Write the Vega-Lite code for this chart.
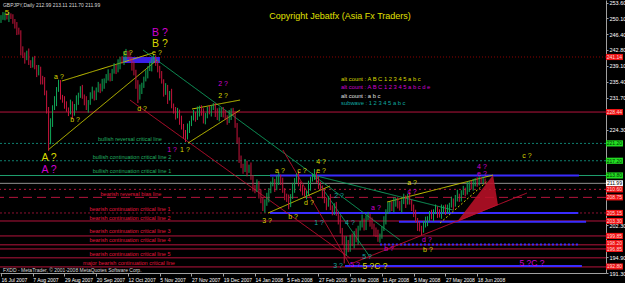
{
"$schema":"https://vega.github.io/schema/vega-lite/v6.json",
"width":606,"height":273,
"autosize":{"type":"none"},
"padding":{"left":0,"top":0,"right":19,"bottom":10},
"background":"#000000",
"config":{"view":{"stroke":null,"fill":"#000000"},"font":"Liberation Sans"},
"resolve":{"scale":{"color":"independent","strokeDash":"independent"},"axis":{"x":"independent","y":"independent"}},
"datasets":{
"bars":[
{"i":0,"o":249.8,"h":250.8,"l":249.0,"c":250.2},{"i":1,"o":250.2,"h":251.5,"l":249.7,"c":250.6},{"i":2,"o":250.6,"h":251.4,"l":249.6,"c":250.9},{"i":3,"o":250.9,"h":251.3,"l":249.8,"c":250.4},{"i":4,"o":250.4,"h":251.5,"l":249.2,"c":250.8},{"i":5,"o":250.8,"h":251.2,"l":249.9,"c":250.3},{"i":6,"o":250.3,"h":251.0,"l":248.8,"c":249.5},{"i":7,"o":249.5,"h":249.9,"l":247.7,"c":248.6},{"i":8,"o":248.6,"h":249.2,"l":246.2,"c":247.0},{"i":9,"o":247.0,"h":247.9,"l":246.3,"c":246.8},
{"i":10,"o":246.8,"h":247.3,"l":241.5,"c":242.5},{"i":11,"o":242.5,"h":243.6,"l":240.9,"c":241.5},{"i":12,"o":241.5,"h":242.2,"l":239.6,"c":240.8},{"i":13,"o":240.8,"h":242.6,"l":240.4,"c":241.8},{"i":14,"o":241.8,"h":243.1,"l":239.3,"c":240.0},{"i":15,"o":240.0,"h":240.4,"l":238.6,"c":239.5},{"i":16,"o":239.5,"h":241.1,"l":238.7,"c":240.5},{"i":17,"o":240.5,"h":241.4,"l":238.3,"c":238.8},{"i":18,"o":238.8,"h":239.3,"l":236.5,"c":237.5},{"i":19,"o":237.5,"h":239.3,"l":236.9,"c":238.2},
{"i":20,"o":238.2,"h":238.9,"l":234.8,"c":236.0},{"i":21,"o":236.0,"h":236.8,"l":234.8,"c":235.2},{"i":22,"o":235.2,"h":236.5,"l":232.3,"c":233.0},{"i":23,"o":233.0,"h":233.4,"l":228.1,"c":229.0},{"i":24,"o":229.0,"h":229.6,"l":219.5,"c":222.5},{"i":25,"o":222.5,"h":227.0,"l":221.0,"c":226.0},{"i":26,"o":226.0,"h":230.0,"l":225.0,"c":229.5},{"i":27,"o":229.5,"h":232.1,"l":228.9,"c":231.0},{"i":28,"o":231.0,"h":234.2,"l":229.8,"c":233.5},{"i":29,"o":233.5,"h":235.9,"l":233.1,"c":234.5},
{"i":30,"o":234.5,"h":235.8,"l":231.3,"c":232.0},{"i":31,"o":232.0,"h":232.4,"l":230.6,"c":231.5},{"i":32,"o":231.5,"h":232.1,"l":229.2,"c":230.0},{"i":33,"o":230.0,"h":230.9,"l":228.5,"c":229.0},{"i":34,"o":229.0,"h":229.5,"l":227.5,"c":228.5},{"i":35,"o":228.5,"h":231.3,"l":227.9,"c":230.2},{"i":36,"o":230.2,"h":230.9,"l":226.8,"c":228.0},{"i":37,"o":228.0,"h":230.3,"l":227.6,"c":229.5},{"i":38,"o":229.5,"h":232.3,"l":228.8,"c":231.0},{"i":39,"o":231.0,"h":232.9,"l":230.1,"c":232.5},
{"i":40,"o":232.5,"h":234.4,"l":231.7,"c":233.8},{"i":41,"o":233.8,"h":234.7,"l":231.5,"c":232.0},{"i":42,"o":232.0,"h":232.5,"l":230.0,"c":231.0},{"i":43,"o":231.0,"h":232.1,"l":228.9,"c":229.5},{"i":44,"o":229.5,"h":231.2,"l":228.3,"c":230.5},{"i":45,"o":230.5,"h":233.0,"l":230.1,"c":232.2},{"i":46,"o":232.2,"h":234.3,"l":231.5,"c":233.0},{"i":47,"o":233.0,"h":233.4,"l":231.1,"c":232.0},{"i":48,"o":232.0,"h":234.1,"l":231.2,"c":233.5},{"i":49,"o":233.5,"h":235.4,"l":233.0,"c":234.5},
{"i":50,"o":234.5,"h":235.0,"l":232.8,"c":233.8},{"i":51,"o":233.8,"h":236.1,"l":233.2,"c":235.0},{"i":52,"o":235.0,"h":236.2,"l":233.8,"c":235.5},{"i":53,"o":235.5,"h":237.2,"l":235.1,"c":236.4},{"i":54,"o":236.4,"h":238.3,"l":235.7,"c":237.0},{"i":55,"o":237.0,"h":237.4,"l":235.5,"c":236.4},{"i":56,"o":236.4,"h":238.4,"l":235.6,"c":237.8},{"i":57,"o":237.8,"h":239.7,"l":237.3,"c":238.8},{"i":58,"o":238.8,"h":239.3,"l":237.2,"c":238.2},{"i":59,"o":238.2,"h":240.6,"l":237.6,"c":239.5},
{"i":60,"o":239.5,"h":241.2,"l":238.3,"c":240.5},{"i":61,"o":240.5,"h":241.3,"l":239.6,"c":240.0},{"i":62,"o":240.0,"h":242.5,"l":239.3,"c":241.2},{"i":63,"o":241.2,"h":243.0,"l":240.3,"c":242.0},{"i":64,"o":242.0,"h":242.6,"l":240.7,"c":241.5},{"i":65,"o":241.5,"h":242.4,"l":240.1,"c":240.6},{"i":66,"o":240.6,"h":241.1,"l":238.0,"c":239.0},{"i":67,"o":239.0,"h":240.1,"l":236.9,"c":237.5},{"i":68,"o":237.5,"h":238.2,"l":233.8,"c":235.0},{"i":69,"o":235.0,"h":235.8,"l":230.5,"c":232.0},
{"i":70,"o":232.0,"h":234.8,"l":231.3,"c":233.5},{"i":71,"o":233.5,"h":235.2,"l":232.6,"c":234.8},{"i":72,"o":234.8,"h":236.6,"l":234.0,"c":236.0},{"i":73,"o":236.0,"h":238.1,"l":235.5,"c":237.2},{"i":74,"o":237.2,"h":239.0,"l":236.2,"c":238.5},{"i":75,"o":238.5,"h":240.1,"l":237.9,"c":239.0},{"i":76,"o":239.0,"h":240.9,"l":237.8,"c":240.2},{"i":77,"o":240.2,"h":241.8,"l":239.8,"c":240.8},{"i":78,"o":240.8,"h":241.5,"l":239.1,"c":239.8},{"i":79,"o":239.8,"h":240.2,"l":237.6,"c":238.5},
{"i":80,"o":238.5,"h":239.1,"l":236.2,"c":237.0},{"i":81,"o":237.0,"h":237.9,"l":235.0,"c":235.5},{"i":82,"o":235.5,"h":236.0,"l":232.0,"c":233.0},{"i":83,"o":233.0,"h":235.1,"l":232.4,"c":234.0},{"i":84,"o":234.0,"h":234.7,"l":230.3,"c":231.5},{"i":85,"o":231.5,"h":233.3,"l":231.1,"c":232.5},{"i":86,"o":232.5,"h":233.8,"l":229.3,"c":230.0},{"i":87,"o":230.0,"h":230.4,"l":228.1,"c":229.0},{"i":88,"o":229.0,"h":229.6,"l":226.7,"c":227.5},{"i":89,"o":227.5,"h":229.4,"l":227.0,"c":228.5},
{"i":90,"o":228.5,"h":229.0,"l":225.5,"c":226.5},{"i":91,"o":226.5,"h":227.6,"l":224.4,"c":225.0},{"i":92,"o":225.0,"h":225.7,"l":222.3,"c":223.5},{"i":93,"o":223.5,"h":224.3,"l":221.5,"c":222.8},{"i":94,"o":222.8,"h":225.8,"l":222.1,"c":224.5},{"i":95,"o":224.5,"h":226.4,"l":223.6,"c":226.0},{"i":96,"o":226.0,"h":227.6,"l":225.2,"c":227.0},{"i":97,"o":227.0,"h":228.9,"l":226.5,"c":228.0},{"i":98,"o":228.0,"h":228.5,"l":226.2,"c":227.2},{"i":99,"o":227.2,"h":229.7,"l":226.6,"c":228.6},
{"i":100,"o":228.6,"h":229.9,"l":227.4,"c":229.2},{"i":101,"o":229.2,"h":230.0,"l":227.6,"c":228.0},{"i":102,"o":228.0,"h":229.3,"l":225.8,"c":226.5},{"i":103,"o":226.5,"h":228.2,"l":225.6,"c":227.8},{"i":104,"o":227.8,"h":229.6,"l":227.0,"c":229.0},{"i":105,"o":229.0,"h":229.9,"l":227.9,"c":228.4},{"i":106,"o":228.4,"h":230.0,"l":227.4,"c":229.5},{"i":107,"o":229.5,"h":230.5,"l":228.9,"c":229.8},{"i":108,"o":229.8,"h":230.5,"l":227.3,"c":228.5},{"i":109,"o":228.5,"h":229.3,"l":226.6,"c":227.0},
{"i":110,"o":227.0,"h":229.5,"l":226.3,"c":228.2},{"i":111,"o":228.2,"h":229.4,"l":227.3,"c":229.0},{"i":112,"o":229.0,"h":229.6,"l":227.2,"c":228.0},{"i":113,"o":228.0,"h":228.9,"l":226.7,"c":227.2},{"i":114,"o":227.2,"h":227.7,"l":225.5,"c":226.5},{"i":115,"o":226.5,"h":228.9,"l":225.9,"c":227.8},{"i":116,"o":227.8,"h":229.3,"l":226.6,"c":228.6},{"i":117,"o":228.6,"h":229.4,"l":227.6,"c":228.0},{"i":118,"o":228.0,"h":228.6,"l":224.8,"c":225.5},{"i":119,"o":225.5,"h":225.9,"l":221.1,"c":222.0},
{"i":120,"o":222.0,"h":222.6,"l":216.7,"c":217.5},{"i":121,"o":217.5,"h":218.4,"l":215.5,"c":216.0},{"i":122,"o":216.0,"h":216.5,"l":214.2,"c":215.2},{"i":123,"o":215.2,"h":217.6,"l":214.6,"c":216.5},{"i":124,"o":216.5,"h":217.2,"l":213.6,"c":214.8},{"i":125,"o":214.8,"h":216.3,"l":214.4,"c":215.5},{"i":126,"o":215.5,"h":216.8,"l":212.8,"c":213.5},{"i":127,"o":213.5,"h":213.9,"l":210.1,"c":211.0},{"i":128,"o":211.0,"h":211.6,"l":209.7,"c":210.5},{"i":129,"o":210.5,"h":212.9,"l":210.0,"c":212.0},
{"i":130,"o":212.0,"h":212.5,"l":208.5,"c":209.5},{"i":131,"o":209.5,"h":210.6,"l":207.4,"c":208.0},{"i":132,"o":208.0,"h":208.7,"l":205.6,"c":206.8},{"i":133,"o":206.8,"h":208.3,"l":205.2,"c":207.5},{"i":134,"o":207.5,"h":209.8,"l":206.8,"c":208.5},{"i":135,"o":208.5,"h":210.9,"l":207.6,"c":210.5},{"i":136,"o":210.5,"h":212.4,"l":209.7,"c":211.8},{"i":137,"o":211.8,"h":213.4,"l":211.3,"c":212.5},{"i":138,"o":212.5,"h":213.0,"l":210.0,"c":211.0},{"i":139,"o":211.0,"h":213.9,"l":210.4,"c":212.8},
{"i":140,"o":212.8,"h":214.5,"l":211.6,"c":213.2},{"i":141,"o":213.2,"h":214.0,"l":211.6,"c":212.0},{"i":142,"o":212.0,"h":213.3,"l":209.8,"c":210.5},{"i":143,"o":210.5,"h":210.9,"l":208.1,"c":209.0},{"i":144,"o":209.0,"h":209.6,"l":207.7,"c":208.5},{"i":145,"o":208.5,"h":209.4,"l":206.0,"c":207.5},{"i":146,"o":207.5,"h":209.5,"l":206.5,"c":209.0},{"i":147,"o":209.0,"h":212.1,"l":208.4,"c":211.0},{"i":148,"o":211.0,"h":213.2,"l":209.8,"c":212.5},{"i":149,"o":212.5,"h":214.3,"l":212.1,"c":213.5},
{"i":150,"o":213.5,"h":214.8,"l":211.3,"c":212.0},{"i":151,"o":212.0,"h":212.4,"l":210.1,"c":211.0},{"i":152,"o":211.0,"h":211.6,"l":209.2,"c":210.0},{"i":153,"o":210.0,"h":210.9,"l":209.0,"c":209.5},{"i":154,"o":209.5,"h":210.3,"l":208.3,"c":209.8},{"i":155,"o":209.8,"h":212.6,"l":209.2,"c":211.5},{"i":156,"o":211.5,"h":213.5,"l":210.3,"c":212.8},{"i":157,"o":212.8,"h":214.3,"l":212.4,"c":213.5},{"i":158,"o":213.5,"h":215.3,"l":212.8,"c":214.2},{"i":159,"o":214.2,"h":214.6,"l":212.1,"c":213.0},
{"i":160,"o":213.0,"h":213.6,"l":210.7,"c":211.5},{"i":161,"o":211.5,"h":212.4,"l":210.5,"c":211.0},{"i":162,"o":211.0,"h":211.5,"l":208.5,"c":209.5},{"i":163,"o":209.5,"h":210.6,"l":207.4,"c":208.0},{"i":164,"o":208.0,"h":208.7,"l":205.8,"c":207.0},{"i":165,"o":207.0,"h":209.0,"l":206.6,"c":208.2},{"i":166,"o":208.2,"h":209.5,"l":205.8,"c":206.5},{"i":167,"o":206.5,"h":206.9,"l":204.6,"c":205.5},{"i":168,"o":205.5,"h":207.4,"l":204.7,"c":206.8},{"i":169,"o":206.8,"h":207.7,"l":204.5,"c":205.0},
{"i":170,"o":205.0,"h":205.5,"l":202.5,"c":203.5},{"i":171,"o":203.5,"h":204.6,"l":200.4,"c":201.0},{"i":172,"o":201.0,"h":201.7,"l":197.8,"c":199.0},{"i":173,"o":199.0,"h":199.8,"l":193.5,"c":196.0},{"i":174,"o":196.0,"h":199.8,"l":195.3,"c":198.5},{"i":175,"o":198.5,"h":198.9,"l":196.1,"c":197.0},{"i":176,"o":197.0,"h":200.1,"l":196.2,"c":199.5},{"i":177,"o":199.5,"h":200.4,"l":197.5,"c":198.0},{"i":178,"o":198.0,"h":201.0,"l":197.0,"c":200.5},{"i":179,"o":200.5,"h":201.6,"l":198.4,"c":199.0},
{"i":180,"o":199.0,"h":202.2,"l":197.8,"c":201.5},{"i":181,"o":201.5,"h":203.3,"l":201.1,"c":202.5},{"i":182,"o":202.5,"h":204.8,"l":201.8,"c":203.5},{"i":183,"o":203.5,"h":203.9,"l":201.1,"c":202.0},{"i":184,"o":202.0,"h":204.6,"l":201.2,"c":204.0},{"i":185,"o":204.0,"h":205.4,"l":203.5,"c":204.5},{"i":186,"o":204.5,"h":205.0,"l":202.0,"c":203.0},{"i":187,"o":203.0,"h":204.1,"l":201.4,"c":202.0},{"i":188,"o":202.0,"h":202.7,"l":199.8,"c":201.0},{"i":189,"o":201.0,"h":201.8,"l":199.6,"c":200.0},
{"i":190,"o":200.0,"h":201.3,"l":198.5,"c":199.2},{"i":191,"o":199.2,"h":200.4,"l":198.3,"c":200.0},{"i":192,"o":200.0,"h":202.1,"l":199.2,"c":201.5},{"i":193,"o":201.5,"h":204.4,"l":201.0,"c":203.5},{"i":194,"o":203.5,"h":206.0,"l":202.5,"c":205.5},{"i":195,"o":205.5,"h":207.6,"l":204.9,"c":206.5},{"i":196,"o":206.5,"h":207.7,"l":205.3,"c":207.0},{"i":197,"o":207.0,"h":207.8,"l":205.6,"c":206.0},{"i":198,"o":206.0,"h":208.8,"l":205.3,"c":207.5},{"i":199,"o":207.5,"h":208.6,"l":206.6,"c":208.2},
{"i":200,"o":208.2,"h":208.8,"l":206.2,"c":207.0},{"i":201,"o":207.0,"h":207.9,"l":205.7,"c":206.2},{"i":202,"o":206.2,"h":208.3,"l":205.2,"c":207.8},{"i":203,"o":207.8,"h":209.6,"l":207.2,"c":208.5},{"i":204,"o":208.5,"h":209.2,"l":206.3,"c":207.5},{"i":205,"o":207.5,"h":209.6,"l":207.1,"c":208.8},{"i":206,"o":208.8,"h":210.1,"l":207.1,"c":207.8},{"i":207,"o":207.8,"h":208.2,"l":205.6,"c":206.5},{"i":208,"o":206.5,"h":207.1,"l":204.2,"c":205.0},{"i":209,"o":205.0,"h":205.9,"l":203.0,"c":203.5},
{"i":210,"o":203.5,"h":204.0,"l":201.0,"c":202.0},{"i":211,"o":202.0,"h":203.1,"l":200.9,"c":201.5},{"i":212,"o":201.5,"h":202.2,"l":200.0,"c":201.0},{"i":213,"o":201.0,"h":203.3,"l":200.6,"c":202.5},{"i":214,"o":202.5,"h":204.3,"l":201.8,"c":203.0},{"i":215,"o":203.0,"h":204.4,"l":202.1,"c":204.0},{"i":216,"o":204.0,"h":205.6,"l":203.2,"c":205.0},{"i":217,"o":205.0,"h":205.9,"l":203.7,"c":204.2},{"i":218,"o":204.2,"h":206.0,"l":203.2,"c":205.5},{"i":219,"o":205.5,"h":207.1,"l":204.9,"c":206.0},
{"i":220,"o":206.0,"h":206.7,"l":204.0,"c":205.2},{"i":221,"o":205.2,"h":206.0,"l":204.1,"c":204.5},{"i":222,"o":204.5,"h":207.1,"l":203.8,"c":205.8},{"i":223,"o":205.8,"h":206.9,"l":204.9,"c":206.5},{"i":224,"o":206.5,"h":207.1,"l":204.7,"c":205.5},{"i":225,"o":205.5,"h":207.1,"l":205.0,"c":206.2},{"i":226,"o":206.2,"h":207.5,"l":205.2,"c":207.0},{"i":227,"o":207.0,"h":208.9,"l":206.4,"c":207.8},{"i":228,"o":207.8,"h":208.5,"l":205.8,"c":207.0},{"i":229,"o":207.0,"h":209.3,"l":206.6,"c":208.5},
{"i":230,"o":208.5,"h":210.5,"l":207.8,"c":209.2},{"i":231,"o":209.2,"h":209.6,"l":207.7,"c":208.6},{"i":232,"o":208.6,"h":210.4,"l":207.8,"c":209.8},{"i":233,"o":209.8,"h":211.4,"l":209.3,"c":210.5},{"i":234,"o":210.5,"h":211.0,"l":209.0,"c":210.0},{"i":235,"o":210.0,"h":212.3,"l":209.4,"c":211.2},{"i":236,"o":211.2,"h":212.5,"l":210.0,"c":211.8},{"i":237,"o":211.8,"h":212.6,"l":210.6,"c":211.0},{"i":238,"o":211.0,"h":213.0,"l":210.3,"c":212.2},{"i":239,"o":212.2,"h":213.2,"l":211.3,"c":212.8},
{"i":240,"o":212.8,"h":213.4,"l":211.2,"c":212.0},{"i":241,"o":212.0,"h":213.6,"l":211.5,"c":213.0},{"i":242,"o":213.0,"h":213.4,"l":212.0,"c":212.5},{"i":243,"o":212.5,"h":213.5,"l":211.9,"c":212.99},{"i":244,"o":212.99,"h":213.11,"l":211.70,"c":211.99}
],
"hl":[
{"p":241.14,"k":"res"},{"p":228.44,"k":"lvl"},{"p":221.2,"k":"bullrev"},{"p":217.2,"k":"bull2"},{"p":213.8,"k":"bull1"},{"p":211.99,"k":"cur"},{"p":210.6,"k":"bdot"},{"p":208.75,"k":"brev"},{"p":205.15,"k":"b1"},{"p":203.3,"k":"b"},{"p":199.85,"k":"b"},{"p":197.8,"k":"b"},{"p":196.85,"k":"b"},{"p":194.8,"k":"b"},{"p":192.7,"k":"b"}
],
"bl":[
{"i":135.6,"i2":291.3,"p":213.8,"k":"solid"},{"i":135.6,"i2":291.0,"p":205.15,"k":"solid"},{"i":200.6,"i2":294.9,"p":203.1,"k":"solid"},{"i":191.0,"i2":291.8,"p":197.9,"k":"dot"},{"i":173.4,"i2":292.8,"p":192.9,"k":"solid"}
],
"zone":[{"i":61.5,"i2":80.1,"p":241.14,"p2":239.75}],
"tri":[{"i":229.8,"p":203.06,"p2":203.06},{"i":248.0,"p":213.91,"p2":206.5},{"i":250.5,"p":206.98,"p2":206.98}],
"tl":[
{"g":"Y1","k":"yl","i":23.7,"p":219.67},{"g":"Y1","k":"yl","i":78.6,"p":240.44},
{"g":"Y2","k":"yl","i":30.7,"p":235.6},{"g":"Y2","k":"yl","i":76.6,"p":242.06},
{"g":"G1","k":"gr","i":71.6,"p":242.75},{"g":"G1","k":"gr","i":159.8,"p":213.21},
{"g":"G2","k":"gr","i":157.3,"p":213.9},{"g":"G2","k":"gr","i":201.1,"p":198.9},
{"g":"G3","k":"gr","i":157.3,"p":213.9},{"g":"G3","k":"gr","i":227.8,"p":205.83},
{"g":"G4","k":"gr","i":157.3,"p":213.9},{"g":"G4","k":"gr","i":186.0,"p":194.98},
{"g":"R1","k":"rd","i":65.0,"p":231.21},{"g":"R1","k":"rd","i":175.9,"p":194.75},
{"g":"R2","k":"rd","i":142.1,"p":219.67},{"g":"R2","k":"rd","i":175.9,"p":193.14},
{"g":"R3","k":"rd","i":177.4,"p":193.6},{"g":"R3","k":"rd","i":265.1,"p":209.75},
{"g":"Y3","k":"yl","i":134.6,"p":205.14},{"g":"Y3","k":"yl","i":165.8,"p":211.37},
{"g":"Y4","k":"yl","i":194.6,"p":207.67},{"g":"Y4","k":"yl","i":248.0,"p":213.9},
{"g":"Y5","k":"yd","i":221.3,"p":202.83},{"g":"Y5","k":"yd","i":245.0,"p":212.44},
{"g":"F1","k":"yl","i":94.3,"p":221.29},{"g":"F1","k":"yl","i":120.5,"p":228.91},
{"g":"F2","k":"yl","i":96.3,"p":229.14},{"g":"F2","k":"yl","i":120.5,"p":231.21}
],
"notes":[
{"r":"title","s":"alt1","i":170.9,"p":250.6,"t":"Copyright Jebatfx (Asia Fx Traders)"},
{"r":"hdr","s":"info","i":1.0,"p":253.1,"t":"GBPJPY,Daily  212.99 213.11 211.70 211.99"},
{"r":"hdr","s":"info","i":1.0,"p":191.95,"t":"FXDD - MetaTrader, © 2001-2008 MetaQuotes Software Corp."},
{"r":"five","s":"alt1","i":3.0,"p":251.3,"t":"5"},
{"r":"big","s":"alt2","i":80.1,"p":246.67,"t":"B ?"},
{"r":"big","s":"alt1","i":80.1,"p":244.14,"t":"B ?"},
{"r":"big","s":"alt1","i":24.2,"p":217.83,"t":"A ?"},
{"r":"big","s":"alt2","i":24.2,"p":215.06,"t":"A ?"},
{"r":"wave","s":"alt1","i":64.0,"p":242.06,"t":"c ?"},
{"r":"wave","s":"alt1","i":78.6,"p":242.06,"t":"e ?"},
{"r":"wave","s":"alt1","i":29.2,"p":236.52,"t":"a ?"},
{"r":"wave","s":"alt1","i":37.3,"p":226.6,"t":"b ?"},
{"r":"wave","s":"alt1","i":71.1,"p":229.14,"t":"d ?"},
{"r":"wave","s":"alt2","i":86.2,"p":219.67,"t":"1 ?"},
{"r":"wave","s":"alt1","i":92.7,"p":219.67,"t":"1 ?"},
{"r":"wave","s":"alt1","i":111.9,"p":232.14,"t":"2 ?"},
{"r":"wave","s":"alt2","i":111.9,"p":234.9,"t":"2 ?"},
{"r":"wave","s":"alt1","i":134.1,"p":203.29,"t":"3 ?"},
{"r":"wave","s":"alt1","i":140.6,"p":214.83,"t":"a ?"},
{"r":"wave","s":"alt1","i":147.2,"p":204.21,"t":"b ?"},
{"r":"wave","s":"alt1","i":151.7,"p":214.83,"t":"c ?"},
{"r":"wave","s":"alt1","i":155.2,"p":207.44,"t":"d ?"},
{"r":"wave","s":"alt1","i":161.3,"p":214.83,"t":"e ?"},
{"r":"wave","s":"alt1","i":161.3,"p":216.91,"t":"4 ?"},
{"r":"wave","s":"sub","i":160.3,"p":202.83,"t":"1 ?"},
{"r":"wave","s":"sub","i":170.4,"p":209.06,"t":"2 ?"},
{"r":"wave","s":"sub","i":175.9,"p":202.83,"t":"4 ?"},
{"r":"wave","s":"sub","i":184.5,"p":194.98,"t":"5 ?"},
{"r":"wave","s":"sub","i":169.9,"p":192.9,"t":"3 ?"},
{"r":"wave","s":"alt2","i":178.4,"p":193.14,"t":"5 ?"},
{"r":"wave2","s":"alt1","i":188.5,"p":192.9,"t":"5 ?C ?"},
{"r":"wave","s":"alt2","i":189.0,"p":206.29,"t":"a ?"},
{"r":"wave","s":"alt2","i":195.6,"p":196.83,"t":"b ?"},
{"r":"wave","s":"alt1","i":207.2,"p":212.06,"t":"a ?"},
{"r":"wave","s":"alt2","i":207.2,"p":209.98,"t":"c ?"},
{"r":"wave","s":"alt2","i":214.7,"p":198.9,"t":"d ?"},
{"r":"wave","s":"alt1","i":215.2,"p":196.6,"t":"b ?"},
{"r":"wave","s":"alt2","i":242.4,"p":215.75,"t":"4 ?"},
{"r":"wave","s":"alt2","i":242.4,"p":214.14,"t":"e ?"},
{"r":"wave","s":"alt1","i":265.1,"p":218.29,"t":"c ?"},
{"r":"wave2","s":"alt2","i":267.6,"p":193.6,"t":"5 ?C ?"},
{"r":"line","s":"bull","i":65.0,"p":222.21,"t":"bullish reversal critical line"},
{"r":"line","s":"bull","i":66.0,"p":218.06,"t":"bullish continuation critical line 2"},
{"r":"line","s":"bull","i":66.0,"p":214.83,"t":"bullish continuation critical line 1"},
{"r":"line","s":"bear","i":65.5,"p":209.52,"t":"bearish reversal bias line"},
{"r":"line","s":"bear","i":65.0,"p":206.06,"t":"bearish continuation critical line 1"},
{"r":"line","s":"bear","i":65.0,"p":203.98,"t":"bearish continuation critical line 2"},
{"r":"line","s":"bear","i":65.0,"p":200.98,"t":"bearish continuation critical line 3"},
{"r":"line","s":"bear","i":65.0,"p":198.9,"t":"bearish continuation critical line 4"},
{"r":"line","s":"bear","i":65.0,"p":195.67,"t":"bearish continuation critical line 5"},
{"r":"line","s":"bear","i":64.5,"p":193.6,"t":"major bearish continuation critical line"},
{"r":"legend","s":"alt1","i":171.4,"p":236.06,"t":"alt count : A B C 1 2 3 4 5 a b c"},
{"r":"legend","s":"alt2","i":171.4,"p":234.21,"t":"alt count : A B C 1 2 3 4 5 a b c d e"},
{"r":"legend","s":"alt3","i":171.4,"p":232.14,"t":"alt count : a b c"},
{"r":"legend","s":"sub","i":171.4,"p":230.52,"t":"subwave : 1 2 3 4 5 a b c"}
],
"tags":[
{"p":241.14,"t":"241.14","k":"bear"},{"p":228.44,"t":"228.44","k":"bear"},{"p":221.2,"t":"221.20","k":"bull"},{"p":217.2,"t":"217.20","k":"bull"},{"p":213.8,"t":"213.80","k":"bull"},{"p":211.99,"t":"211.99","k":"cur"},{"p":210.6,"t":"210.60","k":"bear"},{"p":208.75,"t":"208.75","k":"bear"},{"p":205.15,"t":"205.15","k":"bear"},{"p":203.3,"t":"203.30","k":"bear"},{"p":199.85,"t":"199.85","k":"bear"},{"p":198.2,"t":"198.20","k":"bear"},{"p":196.85,"t":"196.85","k":"bear"},{"p":192.8,"t":"192.80","k":"bear"}
]
},
"layer":[
{"data":{"name":"bars"},"mark":{"type":"rule","strokeWidth":1},
 "encoding":{"x":{"field":"i","type":"quantitative","scale":{"domain":[-0.5,304.94],"nice":false,"zero":false},
   "axis":{"orient":"bottom","title":null,"values":[0,16,32,48,64,80,96,112,128,144,160,176,192,208,224,240],
    "labelExpr":"['16 Jul 2007','7 Aug 2007','29 Aug 2007','20 Sep 2007','12 Oct 2007','5 Nov 2007','27 Nov 2007','19 Dec 2007','14 Jan 2008','5 Feb 2008','27 Feb 2008','20 Mar 2008','11 Apr 2008','5 May 2008','27 May 2008','18 Jun 2008'][round(datum.value/16)]",
    "labelAlign":"left","labelFontSize":5,"labelColor":"#ffffff","labelPadding":1,"tickSize":3,"tickColor":"#a0a0a0","domainColor":"#a0a0a0","grid":false,"labelFlush":false,"labelOverlap":false}},
  "y":{"field":"l","type":"quantitative","scale":{"domain":[191.3,254.29],"nice":false,"zero":false},
   "axis":{"orient":"right","title":null,"values":[253.6,250.1,246.4,242.8,239.1,235.4,231.7,224.3,202.3,194.9,191.3],"format":".2f",
    "labelFontSize":5.5,"labelColor":"#ffffff","labelPadding":1,"tickSize":2,"tickColor":"#a0a0a0","domainColor":"#a0a0a0","grid":false,"labelFlush":false,"labelOverlap":false}},
  "y2":{"field":"h"},
  "color":{"value":"#000000"},"opacity":{"value":0}}},
{"data":{"name":"hl"},"mark":{"type":"rule","strokeWidth":1},
 "encoding":{"y":{"field":"p","type":"quantitative","axis":null},
  "color":{"field":"k","type":"nominal","legend":null,"scale":{"domain":["res","lvl","bullrev","bull2","bull1","cur","bdot","brev","b1","b"],"range":["#8b0000","#b4143c","#0f7f6f","#0f7f6f","#1f9f6f","#909090","#b4143c","#b4143c","#8b1030","#b4143c"]}},
  "strokeDash":{"field":"k","type":"nominal","legend":null,"scale":{"domain":["res","lvl","bullrev","bull2","bull1","cur","bdot","brev","b1","b"],"range":[[1,2],[1,0],[2,2],[2,2],[1,0],[1,0],[2,3],[9,5],[2,2],[1,0]]}}}},
{"data":{"name":"bl"},"mark":{"type":"rule","strokeWidth":2},
 "encoding":{"x":{"field":"i","type":"quantitative","axis":null},"x2":{"field":"i2"},
  "y":{"field":"p","type":"quantitative","axis":null},
  "color":{"value":"#3a2cff"},
  "strokeDash":{"field":"k","type":"nominal","legend":null,"scale":{"domain":["solid","dot"],"range":[[1,0],[2,2]]}}}},
{"data":{"name":"zone"},"mark":{"type":"rect","color":"#3a20e8"},
 "encoding":{"x":{"field":"i","type":"quantitative","axis":null},"x2":{"field":"i2"},"y":{"field":"p","type":"quantitative","axis":null},"y2":{"field":"p2"}}},
{"data":{"name":"tri"},"mark":{"type":"area","color":"#c01028","opacity":0.85,"orient":"vertical"},
 "encoding":{"x":{"field":"i","type":"quantitative","axis":null},"y":{"field":"p","type":"quantitative","axis":null},"y2":{"field":"p2"}}},
{"data":{"name":"tl"},"mark":{"type":"line","strokeWidth":1},
 "encoding":{"x":{"field":"i","type":"quantitative","axis":null},"y":{"field":"p","type":"quantitative","axis":null},"detail":{"field":"g"},
  "color":{"field":"k","type":"nominal","legend":null,"scale":{"domain":["yl","yd","gr","rd"],"range":["#c8c800","#c8c800","#10a060","#c01030"]}},
  "strokeDash":{"field":"k","type":"nominal","legend":null,"scale":{"domain":["yl","yd","gr","rd"],"range":[[1,0],[2,2],[1,0],[1,0]]}}}},
{"data":{"name":"bars"},"mark":{"type":"rule","strokeWidth":1},
 "encoding":{"x":{"field":"i","type":"quantitative","axis":null},
  "y":{"field":"l","type":"quantitative","axis":null},
  "y2":{"field":"h"},
  "color":{"condition":{"test":"datum.c >= datum.o","value":"#10a858"},"value":"#c8143c"}}},
{"data":{"name":"notes"},"transform":[{"filter":"datum.r == 'wave'"}],"mark":{"type":"text","fontSize":7,"align":"center","baseline":"middle"},
 "encoding":{"x":{"field":"i","type":"quantitative","axis":null},"y":{"field":"p","type":"quantitative","axis":null},"text":{"field":"t"},
  "color":{"field":"s","type":"nominal","legend":null,"scale":{"domain":["alt1","alt2","alt3","sub","bull","bear","info"],"range":["#d8d800","#d000d0","#e0e0e0","#10a8a0","#20b060","#e0143c","#d0d0d0"]}}}},
{"data":{"name":"notes"},"transform":[{"filter":"datum.r == 'wave2'"}],"mark":{"type":"text","fontSize":8.5,"align":"center","baseline":"middle"},
 "encoding":{"x":{"field":"i","type":"quantitative","axis":null},"y":{"field":"p","type":"quantitative","axis":null},"text":{"field":"t"},
  "color":{"field":"s","type":"nominal","legend":null,"scale":{"domain":["alt1","alt2","alt3","sub","bull","bear","info"],"range":["#d8d800","#d000d0","#e0e0e0","#10a8a0","#20b060","#e0143c","#d0d0d0"]}}}},
{"data":{"name":"notes"},"transform":[{"filter":"datum.r == 'big'"}],"mark":{"type":"text","fontSize":10.5,"align":"center","baseline":"middle"},
 "encoding":{"x":{"field":"i","type":"quantitative","axis":null},"y":{"field":"p","type":"quantitative","axis":null},"text":{"field":"t"},
  "color":{"field":"s","type":"nominal","legend":null,"scale":{"domain":["alt1","alt2","alt3","sub","bull","bear","info"],"range":["#d8d800","#d000d0","#e0e0e0","#10a8a0","#20b060","#e0143c","#d0d0d0"]}}}},
{"data":{"name":"notes"},"transform":[{"filter":"datum.r == 'five'"}],"mark":{"type":"text","fontSize":8,"align":"center","baseline":"middle"},
 "encoding":{"x":{"field":"i","type":"quantitative","axis":null},"y":{"field":"p","type":"quantitative","axis":null},"text":{"field":"t"},
  "color":{"value":"#d8d800"}}},
{"data":{"name":"notes"},"transform":[{"filter":"datum.r == 'line'"}],"mark":{"type":"text","fontSize":5.5,"align":"center","baseline":"middle"},
 "encoding":{"x":{"field":"i","type":"quantitative","axis":null},"y":{"field":"p","type":"quantitative","axis":null},"text":{"field":"t"},
  "color":{"field":"s","type":"nominal","legend":null,"scale":{"domain":["alt1","alt2","alt3","sub","bull","bear","info"],"range":["#d8d800","#d000d0","#e0e0e0","#10a8a0","#20b060","#e0143c","#d0d0d0"]}}}},
{"data":{"name":"notes"},"transform":[{"filter":"datum.r == 'legend'"}],"mark":{"type":"text","fontSize":5.8,"align":"left","baseline":"middle"},
 "encoding":{"x":{"field":"i","type":"quantitative","axis":null},"y":{"field":"p","type":"quantitative","axis":null},"text":{"field":"t"},
  "color":{"field":"s","type":"nominal","legend":null,"scale":{"domain":["alt1","alt2","alt3","sub","bull","bear","info"],"range":["#d8d800","#d000d0","#e0e0e0","#10a8a0","#20b060","#e0143c","#d0d0d0"]}}}},
{"data":{"name":"notes"},"transform":[{"filter":"datum.r == 'title'"}],"mark":{"type":"text","fontSize":9,"align":"center","baseline":"middle"},
 "encoding":{"x":{"field":"i","type":"quantitative","axis":null},"y":{"field":"p","type":"quantitative","axis":null},"text":{"field":"t"},
  "color":{"value":"#e0e000"}}},
{"data":{"name":"notes"},"transform":[{"filter":"datum.r == 'hdr'"}],"mark":{"type":"text","fontSize":5,"align":"left","baseline":"middle"},
 "encoding":{"x":{"field":"i","type":"quantitative","axis":null},"y":{"field":"p","type":"quantitative","axis":null},"text":{"field":"t"},
  "color":{"value":"#d8d8d8"}}},
{"data":{"name":"tags"},"mark":{"type":"point","filled":true,"opacity":1,"strokeWidth":0,"shape":"M-1,-0.36H1V0.36H-1Z","size":289},
 "encoding":{"x":{"datum":309.2,"type":"quantitative","axis":null},"y":{"field":"p","type":"quantitative","axis":null},
  "color":{"field":"k","type":"nominal","legend":null,"scale":{"domain":["bear","bull","cur"],"range":["#ee1515","#22dd22","#ffffff"]}}}},
{"data":{"name":"tags"},"mark":{"type":"text","fontSize":5,"align":"center","baseline":"middle"},
 "encoding":{"x":{"datum":309.2,"type":"quantitative","axis":null},"y":{"field":"p","type":"quantitative","axis":null},"text":{"field":"t"},
  "color":{"field":"k","type":"nominal","legend":null,"scale":{"domain":["bear","bull","cur"],"range":["#ffd8d8","#003300","#000000"]}}}}
]
}
